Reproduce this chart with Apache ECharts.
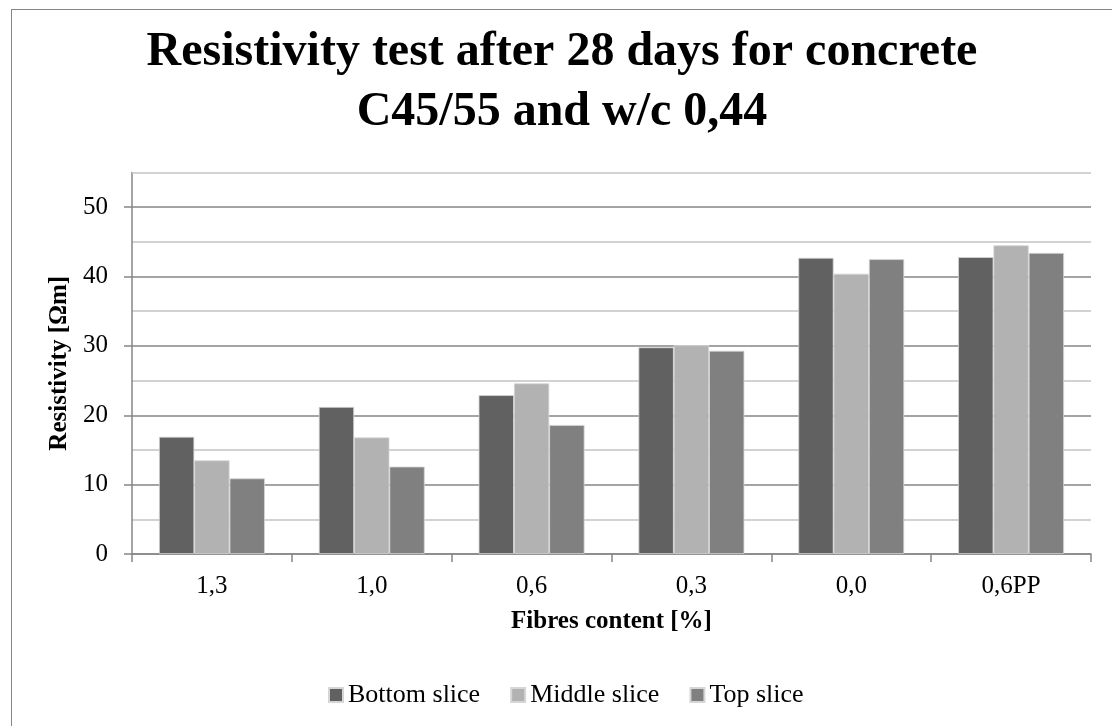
<!DOCTYPE html>
<html>
<head>
<meta charset="utf-8">
<script src="https://cdn.jsdelivr.net/npm/echarts@6/dist/echarts.min.js"></script>
<style>
  html, body { margin: 0; padding: 0; background: #fff; }
  #chart { position: absolute; left: 0; top: 0; width: 1112px; height: 726px; }
  #frame { position: absolute; left: 11px; top: 9px; right: -10px; bottom: -10px;
           border: 1px solid #878787; pointer-events: none; }
</style>
</head>
<body>
<div id="chart"></div>
<div id="frame"></div>
<script>
// Fibre contents on the category axis
const categories = ['1,3', '1,0', '0,6', '0,3', '0,0', '0,6PP'];
// Resistivity [Ωm] per slice
const bottomSlice = [16.9, 21.2, 22.9, 29.8, 42.7, 42.8];
const middleSlice = [13.5, 16.8, 24.6, 30.1, 40.4, 44.5];
const topSlice    = [10.9, 12.6, 18.6, 29.3, 42.5, 43.4];
// Labelled ticks and upper bound of the value axis
const yTicks = [0, 10, 20, 30, 40, 50];
const yMax = 55;

const SERIF = '"Liberation Serif", "Times New Roman", serif';
const AXIS = '#868686';
const MINOR = '#c4c4c4';

const chart = echarts.init(document.getElementById('chart'), null, { renderer: 'canvas' });

function barSeries(name, data, color) {
  return {
    name: name,
    type: 'bar',
    data: data,
    barGap: '0%',
    barCategoryGap: '33.75%',
    itemStyle: { color: color, borderColor: '#d6d6d6', borderWidth: 0.8 },
    emphasis: { disabled: true }
  };
}

const series = [
  barSeries('Bottom slice', bottomSlice, '#616161'),
  barSeries('Middle slice', middleSlice, '#b2b2b2'),
  barSeries('Top slice', topSlice, '#808080')
];
// light line closing the plot area at the top of the value range
series[0].markLine = {
  silent: true,
  symbol: 'none',
  label: { show: false },
  lineStyle: { color: MINOR, width: 1.5, type: 'solid' },
  data: [{ yAxis: yMax }]
};

chart.setOption({
  animation: false,
  backgroundColor: '#fff',
  title: {
    text: 'Resistivity test after 28 days for concrete\nC45/55 and w/c 0,44',
    left: 562,
    top: 23,
    textAlign: 'center',
    padding: 0,
    textStyle: {
      fontFamily: SERIF, fontWeight: 'bold', fontSize: 48,
      lineHeight: 60, color: '#000'
    }
  },
  legend: {
    left: 328,
    top: 682,
    padding: 0,
    itemWidth: 14,
    itemHeight: 14,
    itemGap: 30,
    icon: 'rect',
    selectedMode: false,
    textStyle: { fontFamily: SERIF, fontSize: 26, color: '#000' },
    data: ['Bottom slice', 'Middle slice', 'Top slice']
  },
  grid: {
    left: 132, right: 21, top: 172.5, bottom: 172,
    containLabel: false,
    outerBoundsMode: 'none'
  },
  xAxis: {
    type: 'category',
    data: categories,
    name: 'Fibres content [%]',
    nameLocation: 'middle',
    nameGap: 55,
    nameTextStyle: { fontFamily: SERIF, fontWeight: 'bold', fontSize: 25, color: '#000' },
    axisLine: { lineStyle: { color: AXIS, width: 1.5 } },
    axisTick: { show: true, length: 8, lineStyle: { color: AXIS, width: 1.5 } },
    axisLabel: { fontFamily: SERIF, fontSize: 25, color: '#000', margin: 20 },
    splitLine: { show: false }
  },
  yAxis: {
    type: 'value',
    min: 0,
    max: yMax,
    interval: 10,
    name: 'Resistivity [Ωm]',
    nameLocation: 'middle',
    nameGap: 53,
    nameRotate: 90,
    nameTextStyle: { fontFamily: SERIF, fontWeight: 'bold', fontSize: 25, color: '#000' },
    axisLine: { show: true, lineStyle: { color: AXIS, width: 1.5 } },
    axisTick: { show: true, length: 8, customValues: yTicks, lineStyle: { color: AXIS, width: 1.5 } },
    axisLabel: {
      fontFamily: SERIF, fontSize: 25, color: '#000', margin: 24,
      customValues: yTicks
    },
    splitLine: { show: true, lineStyle: { color: AXIS, width: 1.5 } },
    minorTick: { show: false, splitNumber: 2 },
    minorSplitLine: { show: true, lineStyle: { color: MINOR, width: 1.5 } }
  },
  series: series
});
</script>
</body>
</html>
